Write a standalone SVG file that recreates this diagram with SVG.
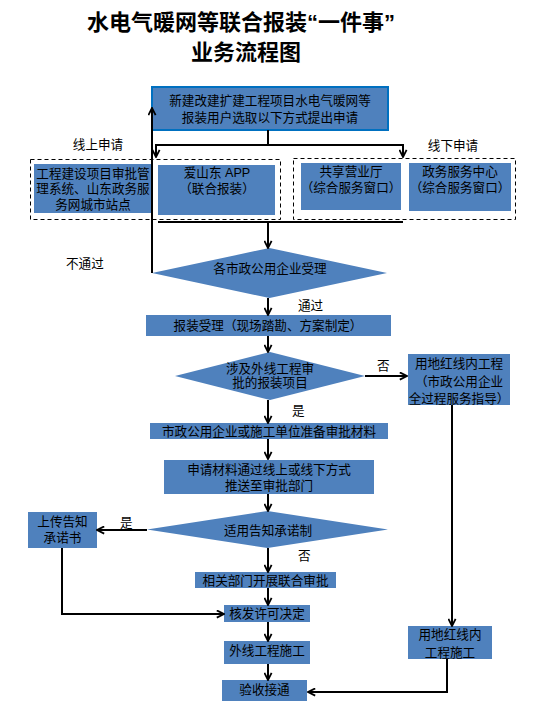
<svg xmlns="http://www.w3.org/2000/svg" width="533" height="710" viewBox="0 0 533 710">
<style>
text{font-family:"Liberation Sans","Noto Sans CJK SC",sans-serif;font-size:12.6px;fill:#000;text-anchor:middle}
.t{font-size:22px;font-weight:bold}
.l{text-anchor:start}
.box{fill:#4F81BD}
.dash{fill:none;stroke:#000;stroke-width:1;stroke-dasharray:4 3}
.c{fill:none;stroke:#000;stroke-width:2}
</style>
<defs>
<marker id="a" viewBox="0 0 10 10" refX="9" refY="5" markerWidth="9" markerHeight="9" markerUnits="userSpaceOnUse" orient="auto">
<path d="M1,1 L9,5 L1,9" fill="none" stroke="#000" stroke-width="2"/>
</marker>
</defs>
<rect width="533" height="710" fill="#fff"/>
<g id="title">
<text class="t" x="241" y="30">水电气暖网等联合报装“一件事”</text>
<text class="t" x="246" y="60">业务流程图</text>
</g>
<g id="online-group"><rect class="dash" x="30.5" y="159.5" width="250" height="60"/><text x="98" y="149">线上申请</text></g>
<g id="offline-group"><rect class="dash" x="293.5" y="158.5" width="222" height="61"/><text x="453" y="149.5">线下申请</text></g>
<g id="start"><rect class="box" x="152" y="87" width="236" height="43" stroke="#0070C0" stroke-width="2"/>
<text x="270" y="104.5">新建改建扩建工程项目水电气暖网等<tspan x="270" dy="17">报装用户选取以下方式提出申请</tspan></text></g>
<g id="web"><rect class="box" x="34" y="164" width="118" height="49"/>
<text x="93" y="177.5">工程建设项目审批管<tspan x="93" dy="15.5">理系统、山东政务服</tspan><tspan x="93" dy="16">务网城市站点</tspan></text></g>
<g id="app"><rect class="box" x="158" y="165" width="117" height="50"/>
<text x="217" y="176.5">爱山东 APP<tspan x="217" dy="16">（联合报装）</tspan></text></g>
<g id="hall"><rect class="box" x="301" y="163" width="100" height="47"/>
<text x="351" y="175.5">共享营业厅<tspan x="351" dy="16">（综合服务窗口）</tspan></text></g>
<g id="center"><rect class="box" x="409" y="163" width="102" height="48"/>
<text x="460" y="175.5">政务服务中心<tspan x="460" dy="16">（综合服务窗口）</tspan></text></g>
<g id="accept"><polygon class="box" points="269.5,248 387,273 269.5,298 152,273"/>
<text x="270" y="272.5">各市政公用企业受理</text></g>
<g id="survey"><rect class="box" x="146" y="315" width="245" height="21"/>
<text x="268" y="330">报装受理（现场踏勘、方案制定）</text></g>
<g id="external"><polygon class="box" points="270,352 365,376 270,400 175,376"/>
<text x="270" y="372.5">涉及外线工程审<tspan x="270" dy="14">批的报装项目</tspan></text></g>
<g id="redline"><rect class="box" x="408" y="354" width="102" height="51"/>
<text x="459" y="367.5">用地红线内工程<tspan x="459" dy="18">（市政公用企业</tspan><tspan x="459" dy="17">全过程服务指导）</tspan></text></g>
<g id="prepare"><rect class="box" x="150" y="423" width="238" height="16"/>
<text x="269" y="435.5">市政公用企业或施工单位准备审批材料</text></g>
<g id="submit"><rect class="box" x="164" y="460" width="210" height="34"/>
<text x="269" y="473.5">申请材料通过线上或线下方式<tspan x="269" dy="16">推送至审批部门</tspan></text></g>
<g id="promise"><polygon class="box" points="267.5,511 388,529.5 267.5,548 147,529.5"/>
<text x="268" y="534.5">适用告知承诺制</text></g>
<g id="upload"><rect class="box" x="28" y="512" width="69" height="36"/>
<text x="62.5" y="525.5">上传告知<tspan x="62.5" dy="16">承诺书</tspan></text></g>
<g id="joint"><rect class="box" x="195" y="572" width="141" height="16"/>
<text x="265.5" y="584.5">相关部门开展联合审批</text></g>
<g id="permit"><rect class="box" x="224" y="605" width="86" height="17"/>
<text x="267" y="618">核发许可决定</text></g>
<g id="build"><rect class="box" x="224" y="641" width="86" height="23"/>
<text x="267" y="655">外线工程施工</text></g>
<g id="finish"><rect class="box" x="222" y="680" width="85" height="21"/>
<text x="264.5" y="693.5">验收接通</text></g>
<g id="redline-build"><rect class="box" x="408" y="626" width="84" height="33"/>
<text x="450" y="638.5">用地红线内<tspan x="450" dy="18">工程施工</tspan></text></g>
<g id="connectors">
<path class="c" d="M268,130 V145 M155,145 H404"/>
<path class="c" d="M156,145 V157" marker-end="url(#a)"/>
<path class="c" d="M403,145 V157" marker-end="url(#a)"/>
<path class="c" d="M158,222 H403"/>
<path class="c" d="M268,222 V248" marker-end="url(#a)"/>
<path class="c" d="M152,273 V108" marker-end="url(#a)"/>
<path class="c" d="M268,298 V315" marker-end="url(#a)"/>
<path class="c" d="M268,336 V352" marker-end="url(#a)"/>
<path class="c" d="M365,376 H407" marker-end="url(#a)"/>
<path class="c" d="M268,400 V423" marker-end="url(#a)"/>
<path class="c" d="M268,439 V459" marker-end="url(#a)"/>
<path class="c" d="M268,494 V511" marker-end="url(#a)"/>
<path class="c" d="M147,530 H97" marker-end="url(#a)"/>
<path class="c" d="M268,548 V572" marker-end="url(#a)"/>
<path class="c" d="M62,548 V614 H224" marker-end="url(#a)"/>
<path class="c" d="M268,588 V605" marker-end="url(#a)"/>
<path class="c" d="M268,622 V641" marker-end="url(#a)"/>
<path class="c" d="M268,664 V680" marker-end="url(#a)"/>
<path class="c" d="M452,405 V626" marker-end="url(#a)"/>
<path class="c" d="M447,659 V692 H308" marker-end="url(#a)"/>
<text class="l" x="66" y="267.5">不通过</text>
<text class="l" x="298" y="310">通过</text>
<text class="l" x="377" y="369.5">否</text>
<text class="l" x="292" y="414.5">是</text>
<text class="l" x="120" y="526.5">是</text>
<text class="l" x="298" y="559.5">否</text>
</g>
</svg>
